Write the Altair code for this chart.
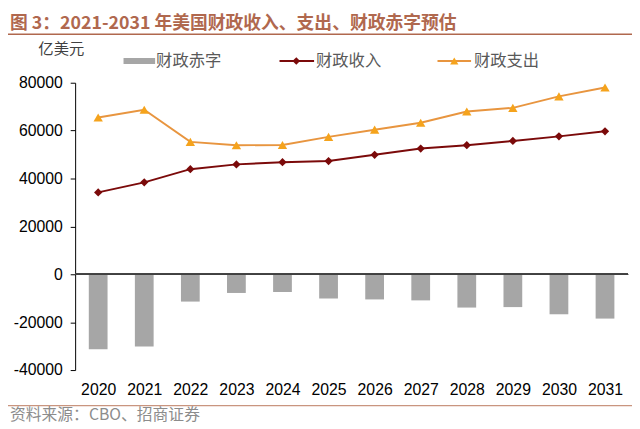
import altair as alt
import pandas as pd

years = ["2020", "2021", "2022", "2023", "2024", "2025", "2026", "2027", "2028", "2029", "2030", "2031"]
deficit = [-31300, -30200, -11400, -7800, -7400, -10100, -10500, -10900, -13900, -13700, -16700, -18500]
revenue = [34200, 38400, 43900, 45900, 46800, 47300, 49900, 52500, 53900, 55700, 57600, 59700]
spending = [65500, 68700, 55300, 53900, 54000, 57400, 60400, 63300, 68000, 69500, 74300, 78000]
y_ticks = [-40000, -20000, 0, 20000, 40000, 60000, 80000]

title_text = "图 3：2021-2031 年美国财政收入、支出、财政赤字预估"
unit_text = "亿美元"
legend_labels = ["财政赤字", "财政收入", "财政支出"]
source_text = "资料来源：CBO、招商证券"

df = pd.DataFrame({"year": years, "deficit": deficit, "revenue": revenue, "spending": spending})

LATIN = 'Liberation Sans, "Noto Sans CJK SC"'
CJK = '"Noto Sans CJK SC", Liberation Sans'
BROWN = "#B0684E"
GRAY_BAR = "#A6A6A6"
RED = "#7B0A0A"
ORANGE_LINE = "#E8953F"
ORANGE_PT = "#F5A31C"

xscale = alt.Scale(type="point", padding=0.5)
yscale = alt.Scale(domain=[-40000, 80000], nice=False, zero=False)

xaxis = alt.Axis(title=None, labelAngle=0, domain=False, ticks=False, labelPadding=12,
                 labelFont=LATIN, labelFontSize=16, labelColor="#000000")
yaxis = alt.Axis(title=None, values=y_ticks, grid=False, labelExpr="'' + datum.value",
                 labelFont=LATIN, labelFontSize=16, labelColor="#000000",
                 domainColor="#000000", tickColor="#000000", tickSize=5, labelPadding=8)

base = alt.Chart(df)

bars = base.mark_bar(size=19, color=GRAY_BAR).encode(
    x=alt.X("year:O", scale=xscale, axis=xaxis),
    y=alt.Y("deficit:Q", scale=yscale, axis=yaxis),
)

zero = base.mark_rule(color="#404040", strokeWidth=1.2).encode(y=alt.datum(0, type="quantitative"))

rev_line = base.mark_line(color=RED, strokeWidth=2).encode(
    x=alt.X("year:O", scale=xscale), y=alt.Y("revenue:Q", scale=yscale))
rev_pts = base.mark_point(shape="diamond", filled=True, size=70, color=RED, opacity=1).encode(
    x=alt.X("year:O", scale=xscale), y=alt.Y("revenue:Q", scale=yscale))

sp_line = base.mark_line(color=ORANGE_LINE, strokeWidth=2).encode(
    x=alt.X("year:O", scale=xscale), y=alt.Y("spending:Q", scale=yscale))
sp_pts = base.mark_point(shape="triangle-up", filled=True, size=90, color=ORANGE_PT, opacity=1).encode(
    x=alt.X("year:O", scale=xscale), y=alt.Y("spending:Q", scale=yscale))

one = alt.Chart(pd.DataFrame({"k": [0]}))

title = one.mark_text(text=title_text, font=CJK, fontSize=18, fontWeight="bold", color=BROWN,
                      align="left", baseline="middle").encode(x=alt.value(-66), y=alt.value(-59))
head_rule = one.mark_rule(color=BROWN, strokeWidth=1.5).encode(
    x=alt.value(-68), x2=alt.value(564), y=alt.value(-49))
foot_rule = one.mark_rule(color="#C9957F", strokeWidth=1.2).encode(
    x=alt.value(-68), x2=alt.value(564), y=alt.value(327))
source = one.mark_text(text=source_text, font=CJK, fontSize=16, color="#8C8C8C",
                       align="left", baseline="middle").encode(x=alt.value(-66), y=alt.value(337))
unit = one.mark_text(text=unit_text, font=CJK, fontSize=15.5, color="#404040",
                     align="center", baseline="middle").encode(x=alt.value(-14), y=alt.value(-34))

# legend
leg_y = -22
lg_bar = one.mark_rect(color=GRAY_BAR).encode(
    x=alt.value(49), x2=alt.value(81), y=alt.value(leg_y - 3), y2=alt.value(leg_y + 3))
lg_t1 = one.mark_text(text=legend_labels[0], font=CJK, fontSize=16.5, color="#595959",
                      align="left", baseline="middle").encode(x=alt.value(82), y=alt.value(leg_y))
lg_rl = one.mark_rule(color=RED, strokeWidth=2).encode(
    x=alt.value(207), x2=alt.value(242), y=alt.value(leg_y))
lg_rp = one.mark_point(shape="diamond", filled=True, size=60, color=RED, opacity=1).encode(
    x=alt.value(224), y=alt.value(leg_y))
lg_t2 = one.mark_text(text=legend_labels[1], font=CJK, fontSize=16.5, color="#595959",
                      align="left", baseline="middle").encode(x=alt.value(244), y=alt.value(leg_y))
lg_ol = one.mark_rule(color=ORANGE_LINE, strokeWidth=2).encode(
    x=alt.value(367), x2=alt.value(401), y=alt.value(leg_y))
lg_op = one.mark_point(shape="triangle-up", filled=True, size=70, color=ORANGE_PT, opacity=1).encode(
    x=alt.value(384), y=alt.value(leg_y))
lg_t3 = one.mark_text(text=legend_labels[2], font=CJK, fontSize=16.5, color="#595959",
                      align="left", baseline="middle").encode(x=alt.value(404), y=alt.value(leg_y))

chart = alt.layer(
    bars, zero, sp_line, sp_pts, rev_line, rev_pts,
    title, head_rule, foot_rule, source, unit,
    lg_bar, lg_t1, lg_rl, lg_rp, lg_t2, lg_ol, lg_op, lg_t3,
).properties(
    width=560, height=291,
    autosize=alt.AutoSizeParams(type="none"),
    padding={"left": 68, "top": 73, "right": 4, "bottom": 57},
    background="#FFFFFF",
).configure_view(strokeWidth=0)

chart.save("out.html", embed_options={"renderer": "svg", "actions": False})
